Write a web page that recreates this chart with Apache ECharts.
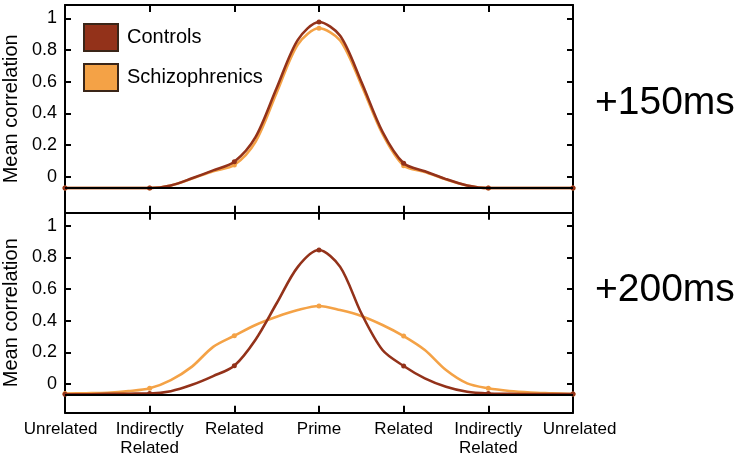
<!DOCTYPE html>
<html>
<head>
<meta charset="utf-8">
<script src="https://cdn.jsdelivr.net/npm/echarts@6/dist/echarts.min.js"></script>
<style>
html,body{margin:0;padding:0;background:#fff;}
#chart{width:738px;height:461px;}
</style>
</head>
<body>
<div id="chart"></div>
<script>
// ---- data ----
var categories = ['Unrelated', 'Indirectly\nRelated', 'Related', 'Prime', 'Related', 'Indirectly\nRelated', 'Unrelated'];
var xs = [0, 0.25, 0.5, 0.75, 1, 1.25, 1.5, 1.75, 2, 2.25, 2.5, 2.75, 3, 3.25, 3.5, 3.75, 4, 4.25, 4.5, 4.75, 5, 5.25, 5.5, 5.75, 6];
var controls150 = [-0.071, -0.071, -0.071, -0.071, -0.071, -0.055, -0.01, 0.04, 0.095, 0.25, 0.56, 0.864, 0.977, 0.89, 0.6, 0.284, 0.085, 0.035, -0.015, -0.055, -0.071, -0.071, -0.071, -0.071, -0.071];
var schizo150 = [-0.071, -0.071, -0.071, -0.071, -0.071, -0.055, -0.012, 0.035, 0.074, 0.22, 0.53, 0.835, 0.937, 0.86, 0.58, 0.27, 0.07, 0.03, -0.017, -0.055, -0.071, -0.071, -0.071, -0.071, -0.071];
var controls200 = [-0.065, -0.065, -0.062, -0.061, -0.06, -0.045, -0.005, 0.05, 0.116, 0.28, 0.51, 0.74, 0.846, 0.74, 0.447, 0.215, 0.114, 0.036, -0.017, -0.049, -0.06, -0.062, -0.063, -0.063, -0.063];
var schizo200 = [-0.06, -0.058, -0.055, -0.045, -0.027, 0.025, 0.11, 0.235, 0.305, 0.373, 0.425, 0.467, 0.493, 0.467, 0.43, 0.373, 0.303, 0.215, 0.088, 0.004, -0.027, -0.044, -0.053, -0.058, -0.063];
var baselineValue = -0.07;
var yTicks = [0, 0.2, 0.4, 0.6, 0.8, 1];
var panelLabels = ['+150ms', '+200ms'];
var seriesNames = ['Controls', 'Schizophrenics'];

// ---- styling ----
var cControls = '#93321A';
var cSchizo = '#F4A246';
var FONT = 'Liberation Sans, Arial, sans-serif';

function pairs(vals) { return xs.map(function (x, i) { return [x, vals[i]]; }); }
function symSize(v) { return Number.isInteger(v[0]) ? 5 : 0; }

var grids = [
  { left: 65, right: 165, top: 5, height: 207.7, containLabel: false, outerBoundsMode: 'none' },
  { left: 65, right: 165, top: 212.7, height: 200, containLabel: false, outerBoundsMode: 'none' }
];
var yRanges = [[-0.227, 1.084], [-0.181, 1.082]];

var xAxes = [], yAxes = [];
for (var g = 0; g < 2; g++) {
  xAxes.push({
    type: 'value', gridIndex: g, min: 0, max: 6, interval: 1, position: 'bottom',
    axisLine: { show: true, onZero: false, lineStyle: { color: '#000', width: 2 } },
    axisTick: { show: true, inside: true, length: 7, lineStyle: { color: '#000', width: 2 } },
    splitLine: { show: false },
    axisLabel: g === 1 ? {
      show: true, margin: 7, fontSize: 17, lineHeight: 19, color: '#000', fontFamily: FONT,
      formatter: function (v) {
        var t = categories[Math.round(v)];
        if (v === 0) return '{l|' + t + '}';
        if (v === 6) return '{r|' + t + '}';
        return t;
      },
      rich: {
        l: { fontSize: 17, fontFamily: FONT, color: '#000', padding: [0, 9, 0, 0] },
        r: { fontSize: 17, fontFamily: FONT, color: '#000', padding: [0, 0, 0, 13] }
      }
    } : { show: false }
  });
  xAxes.push({
    type: 'value', gridIndex: g, min: 0, max: 6, interval: 1, position: 'top',
    axisLine: { show: true, onZero: false, lineStyle: { color: '#000', width: 2 } },
    axisTick: { show: true, inside: true, length: 7, lineStyle: { color: '#000', width: 2 } },
    splitLine: { show: false }, axisLabel: { show: false }
  });
  yAxes.push({
    type: 'value', gridIndex: g, min: yRanges[g][0], max: yRanges[g][1], position: 'left',
    name: 'Mean correlation', nameLocation: 'middle', nameGap: 33, nameRotate: 90,
    nameTextStyle: { fontSize: 20, color: '#000', fontFamily: FONT },
    axisLine: { show: true, onZero: false, lineStyle: { color: '#000', width: 2 } },
    axisTick: { show: true, inside: true, length: 6, customValues: yTicks, lineStyle: { color: '#000', width: 2 } },
    axisLabel: { show: true, customValues: yTicks, margin: 8, fontSize: 18, color: '#000', fontFamily: FONT },
    splitLine: { show: false }
  });
  yAxes.push({
    type: 'value', gridIndex: g, min: yRanges[g][0], max: yRanges[g][1], position: 'right',
    axisLine: { show: true, onZero: false, lineStyle: { color: '#000', width: 2 } },
    axisTick: { show: true, inside: true, length: 6, customValues: yTicks, lineStyle: { color: '#000', width: 2 } },
    axisLabel: { show: false },
    splitLine: { show: false }
  });
}

function lineSeries(name, vals, color, g, z) {
  return {
    name: name, type: 'line', xAxisIndex: g * 2, yAxisIndex: g * 2,
    data: pairs(vals), smooth: 0.3, showSymbol: true, symbol: 'circle', symbolSize: symSize,
    lineStyle: { color: color, width: 2.6 }, itemStyle: { color: color },
    z: z, animation: false
  };
}
function baseSeries(g) {
  return {
    type: 'line', xAxisIndex: g * 2, yAxisIndex: g * 2, data: [], z: 1, animation: false,
    markLine: {
      silent: true, symbol: 'none', label: { show: false }, animation: false,
      lineStyle: { color: '#000', width: 2, type: 'solid' },
      data: [{ yAxis: baselineValue }]
    }
  };
}

var series = [
  baseSeries(0), baseSeries(1),
  lineSeries(seriesNames[1], schizo150, cSchizo, 0, 3),
  lineSeries(seriesNames[0], controls150, cControls, 0, 4),
  lineSeries(seriesNames[1], schizo200, cSchizo, 1, 3),
  lineSeries(seriesNames[0], controls200, cControls, 1, 4)
];

var chart = echarts.init(document.getElementById('chart'), null, { renderer: 'canvas' });
chart.setOption({
  backgroundColor: '#fff',
  animation: false,
  grid: grids,
  xAxis: xAxes,
  yAxis: yAxes,
  legend: {
    data: seriesNames, orient: 'vertical', left: 83, top: 23, padding: 0,
    icon: 'rect', itemWidth: 34, itemHeight: 27, itemGap: 11,
    itemStyle: { borderColor: '#3a2518', borderWidth: 2 },
    textStyle: { fontSize: 20, color: '#000', fontFamily: FONT, padding: [0, 0, 0, 4] }
  },
  graphic: [
    { type: 'text', left: 595, top: 84, style: { text: panelLabels[0], fontSize: 39, fill: '#000', fontFamily: FONT } },
    { type: 'text', left: 595, top: 271, style: { text: panelLabels[1], fontSize: 39, fill: '#000', fontFamily: FONT } }
  ],
  series: series
});
</script>
</body>
</html>
